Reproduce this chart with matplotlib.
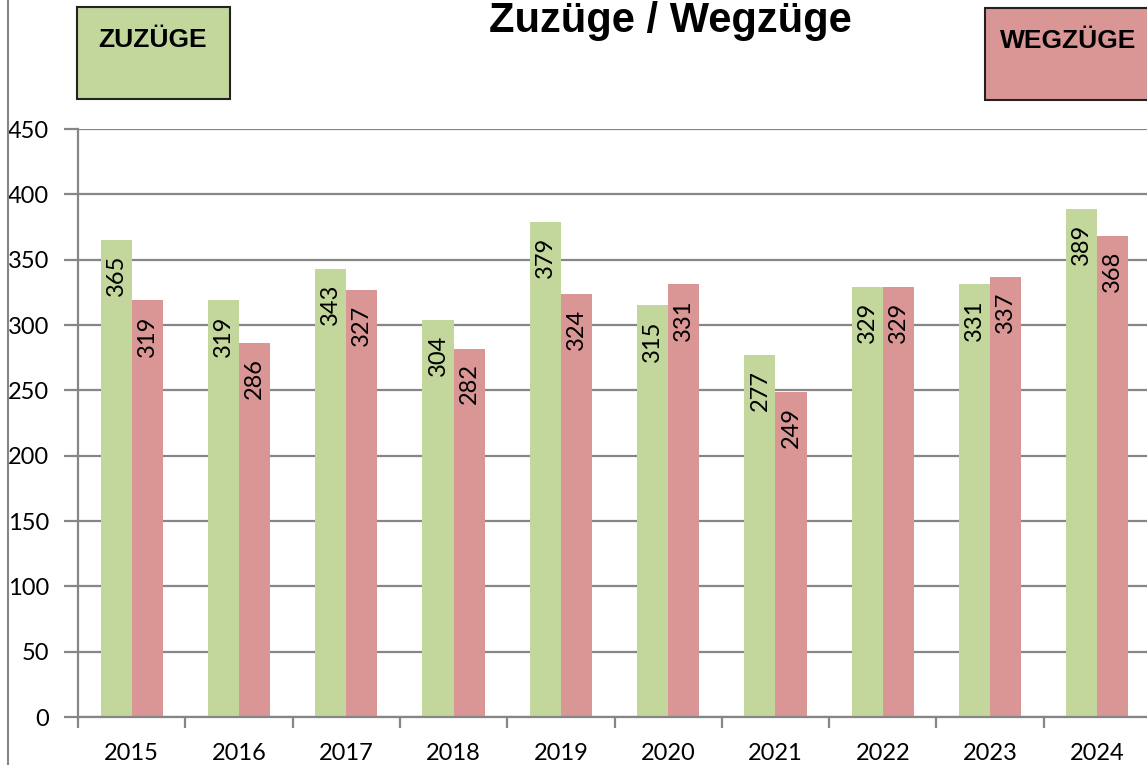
import numpy as np
import matplotlib
matplotlib.use("Agg")
import matplotlib.pyplot as plt
from matplotlib.lines import Line2D
from matplotlib.patches import Rectangle

# Daten
jahre = ["2015", "2016", "2017", "2018", "2019", "2020", "2021", "2022", "2023", "2024"]
zuzuege = [365, 319, 343, 304, 379, 315, 277, 329, 331, 389]
wegzuege = [319, 286, 327, 282, 324, 331, 249, 329, 337, 368]

gruen = "#C3D69B"
rot = "#D99694"
grau = "#868686"

fig = plt.figure(figsize=(11.47, 7.65), dpi=100)
ax = fig.add_axes([78 / 1147, 1 - 717 / 765, 1073 / 1147, 588 / 765])

x = np.arange(len(jahre))
breite = 0.29
b1 = ax.bar(x - breite / 2, zuzuege, breite, color=gruen)
b2 = ax.bar(x + breite / 2, wegzuege, breite, color=rot)

# Werte senkrecht in die Balken schreiben
for balken, werte in ((b1, zuzuege), (b2, wegzuege)):
    for b, w in zip(balken, werte):
        ax.annotate(str(w), (b.get_x() + b.get_width() / 2, w), xytext=(0, -15),
                    textcoords="offset pixels", rotation=90,
                    ha="center", va="top", fontsize=17, family="Lato")

ax.set_xlim(-0.5, len(jahre) - 0.5)
ax.set_ylim(0, 450)
ax.set_yticks(range(0, 451, 50))
ax.yaxis.grid(True, color=grau, linewidth=1.6)
ax.set_axisbelow(True)

# Striche zwischen den Kategorien, Beschriftung in der Mitte
ax.set_xticks(np.arange(-0.5, len(jahre), 1))
ax.set_xticklabels([])
ax.set_xticks(x, minor=True)
ax.set_xticklabels(jahre, minor=True, fontsize=17, family="Lato")
ax.tick_params(axis="x", which="major", length=8, width=1.6, color=grau)
ax.tick_params(axis="x", which="minor", length=0, pad=19)
ax.tick_params(axis="y", length=10, width=1.6, color=grau, pad=11, labelsize=17)
for lab in ax.get_yticklabels():
    lab.set_family("Lato")

for s in ("top", "right"):
    ax.spines[s].set_visible(False)
for s in ("left", "bottom"):
    ax.spines[s].set_color(grau)
    ax.spines[s].set_linewidth(1.6)

# Titel
fig.text(670 / 1147, 1 - 21 / 765, "Zuzüge / Wegzüge", ha="center", va="center",
         fontsize=30, fontweight="bold", family="Liberation Sans")

# Kästchen mit Legende
fig.add_artist(Rectangle((77 / 1147, 1 - 99 / 765), 153 / 1147, 92 / 765,
                         transform=fig.transFigure, facecolor=gruen,
                         edgecolor="#222222", linewidth=1.5))
fig.text(153 / 1147, 1 - 40 / 765, "ZUZÜGE", ha="center", va="center",
         fontsize=19, fontweight="bold", family="Liberation Sans")
fig.add_artist(Rectangle((985 / 1147, 1 - 100 / 765), 170 / 1147, 92 / 765,
                         transform=fig.transFigure, facecolor=rot,
                         edgecolor="#222222", linewidth=1.5))
fig.text(1068 / 1147, 1 - 41 / 765, "WEGZÜGE", ha="center", va="center",
         fontsize=19, fontweight="bold", family="Liberation Sans")

# Rahmenlinie links
fig.add_artist(Line2D([8 / 1147, 8 / 1147], [0, 1], transform=fig.transFigure,
                      color=grau, linewidth=1.5))

fig.savefig("out.png", dpi=100)
